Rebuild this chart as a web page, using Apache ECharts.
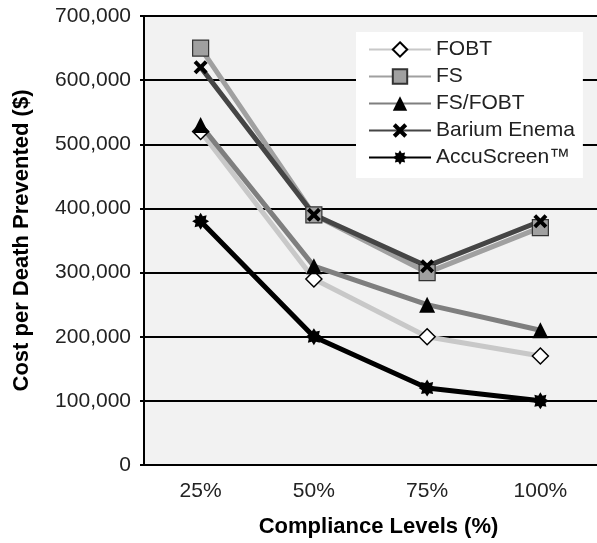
<!DOCTYPE html>
<html><head><meta charset="utf-8">
<script src="https://cdn.jsdelivr.net/npm/echarts@6/dist/echarts.min.js"></script>
<style>html,body{margin:0;padding:0;background:#fff}#c{width:597px;height:543px}</style>
</head><body><div id="c"></div>
<script>
const categories = ['25%', '50%', '75%', '100%'];
const seriesNames = ['FOBT', 'FS', 'FS/FOBT', 'Barium Enema', 'AccuScreen\u2122'];
const fobt = [520000, 290000, 200000, 170000];
const fs = [650000, 390000, 300000, 370000];
const fsFobt = [530000, 310000, 250000, 210000];
const barium = [620000, 390000, 310000, 380000];
const accuScreen = [380000, 200000, 120000, 100000];
const yTicks = [0, 100000, 200000, 300000, 400000, 500000, 600000, 700000];

// symbol paths
const xPath = 'path://M2,0 L5,3 L8,0 L10,2 L7,5 L10,8 L8,10 L5,7 L2,10 L0,8 L3,5 L0,2 Z';
function starPath(n, ro, ri) {
  let s = '';
  for (let k = 0; k < 2 * n; k++) {
    const a = Math.PI * k / n - Math.PI / 2;
    const r = k % 2 === 0 ? ro : ri;
    const x = (10 + r * Math.cos(a)).toFixed(2), y = (10 + r * Math.sin(a)).toFixed(2);
    s += (k === 0 ? 'M' : 'L') + x + ',' + y + ' ';
  }
  return 'path://' + s + 'Z';
}
const astPath = starPath(8, 10, 6.5);

const font = 'Liberation Sans, Arial, sans-serif';
function mk(name, data, lineColor, symbol, size, fill, border, bw) {
  return {
    name, type: 'line', data,
    symbol, symbolSize: size, z: 3,
    lineStyle: { color: lineColor, width: 5 },
    itemStyle: { color: fill, borderColor: border, borderWidth: bw },
    emphasis: { disabled: true }, animation: false
  };
}
const chart = echarts.init(document.getElementById('c'), null, { renderer: 'canvas' });
chart.setOption({
  animation: false,
  backgroundColor: '#ffffff',
  grid: { left: 144, top: 16, width: 456, height: 455, backgroundColor: '#f2f2f2', show: true, borderWidth: 0 },
  legend: {
    left: 356, top: 32, orient: 'vertical',
    padding: [7, 8, 10, 12], backgroundColor: '#ffffff',
    itemWidth: 62, itemHeight: 18, itemGap: 6,
    textStyle: { fontFamily: font, fontSize: 21, color: '#222' },
    data: seriesNames
  },
  xAxis: {
    type: 'category', data: categories, boundaryGap: true,
    axisLine: { lineStyle: { color: '#000', width: 2 } },
    axisTick: { show: false },
    axisLabel: { fontFamily: font, fontSize: 21, color: '#222', margin: 16 },
    name: 'Compliance Levels (%)', nameLocation: 'middle', nameGap: 51,
    nameTextStyle: { fontFamily: font, fontSize: 22, fontWeight: 'bold', color: '#000', padding: [0, 0, 0, 16] }
  },
  yAxis: {
    type: 'value', min: 0, max: 700000, interval: 100000,
    axisLine: { show: true, lineStyle: { color: '#000', width: 2 } },
    axisTick: { show: true, length: 4, lineStyle: { color: '#000', width: 2 } },
    splitLine: { lineStyle: { color: '#000', width: 2 } },
    axisLabel: { fontFamily: font, fontSize: 21, color: '#222', margin: 13,
      formatter: v => yTicks.includes(v) ? v.toLocaleString('en-US') : '' },
    name: 'Cost per Death Prevented ($)', nameLocation: 'middle', nameGap: 111,
    nameTextStyle: { fontFamily: font, fontSize: 22, fontWeight: 'bold', color: '#000' }
  },
  series: [
    mk(seriesNames[0], fobt, '#c8c8c8', 'diamond', 16, '#ffffff', '#000', 1.5),
    mk(seriesNames[1], fs, '#a0a0a0', 'rect', 16, '#a0a0a0', '#333', 1.2),
    mk(seriesNames[2], fsFobt, '#7f7f7f', 'triangle', 16, '#000', '#000', 0),
    mk(seriesNames[3], barium, '#454545', xPath, 14, '#000', '#000', 0),
    mk(seriesNames[4], accuScreen, '#000000', astPath, 17, '#000', '#000', 0)
  ]
});
</script></body></html>
